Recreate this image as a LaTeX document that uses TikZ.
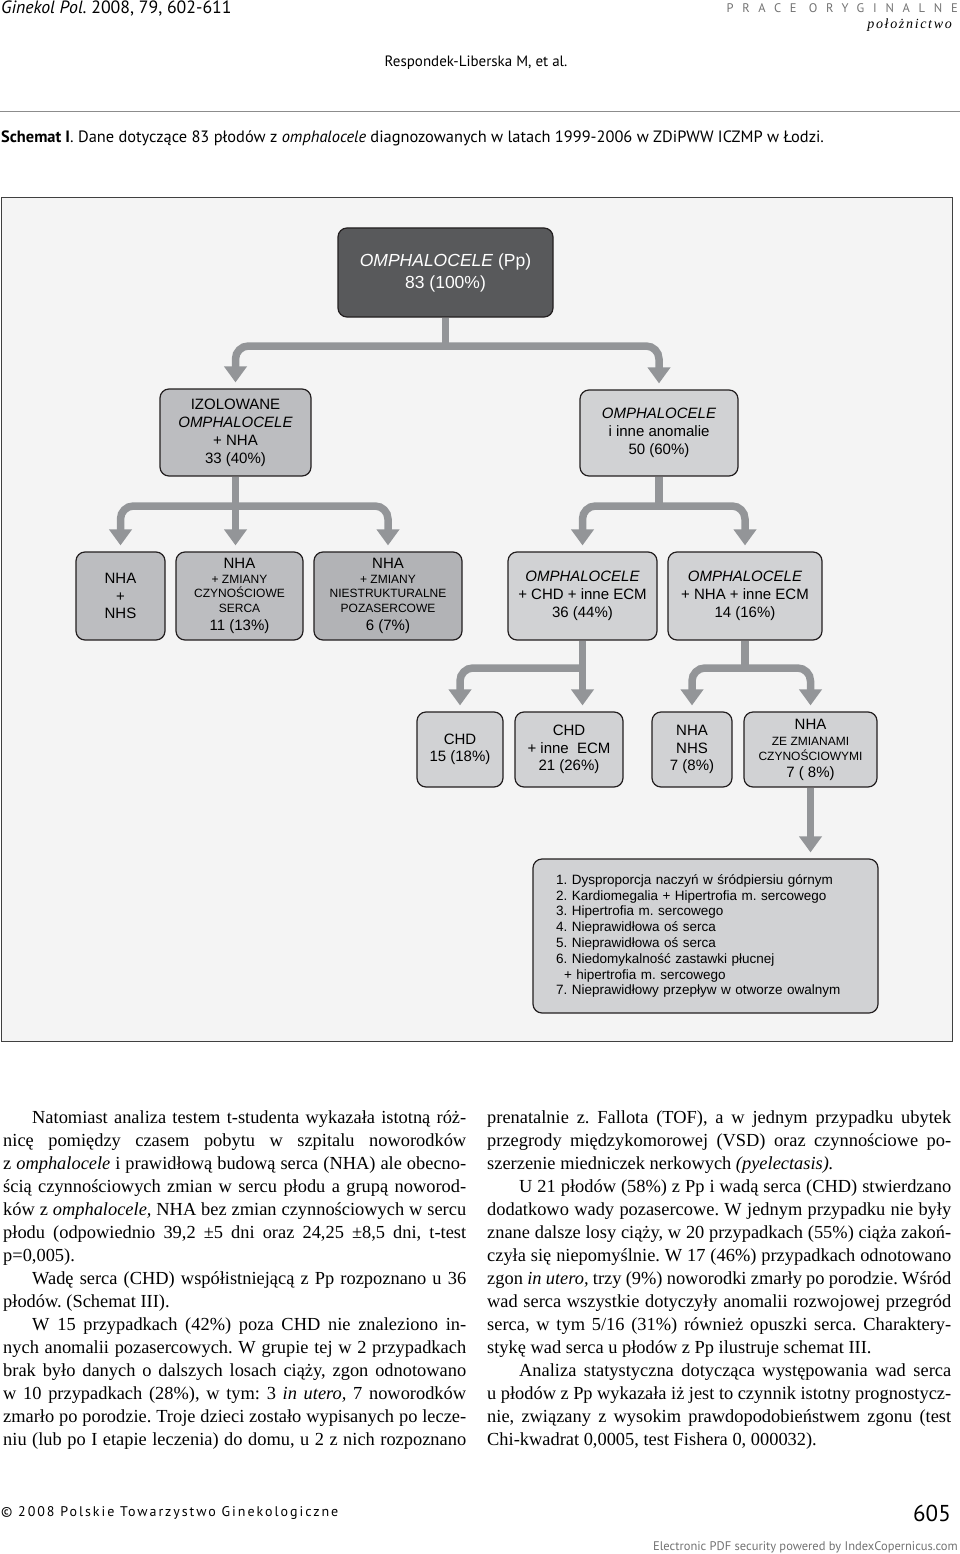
\documentclass[tikz,border=0pt]{standalone}
\usepackage{fontspec}
\setmainfont{Liberation Serif}
\newfontfamily\hdfont{PT Sans}
\newfontfamily\lsfont[LetterSpace=70]{PT Sans}
\newfontfamily\cpfont[LetterSpace=14]{PT Sans}
\newfontfamily\dpfont[LetterSpace=12]{Liberation Serif}
\newfontfamily\diafont{Liberation Sans}
\usetikzlibrary{arrows.meta}
\definecolor{framebg}{HTML}{F4F4F4}
\definecolor{darkbox}{HTML}{58595B}
\definecolor{midbox}{HTML}{BCBDC0}
\definecolor{midboxb}{HTML}{B2B3B6}
\definecolor{lightbox}{HTML}{D1D2D4}
\definecolor{conn}{HTML}{939598}
\definecolor{edge}{HTML}{231F20}
\newcommand{\fsz}[2]{\fontsize{#1}{#2}\selectfont}
\newcommand{\body}{\fontsize{18.4}{21}\selectfont}
\frenchspacing

\begin{document}
\begin{tikzpicture}[x=1pt,y=-1pt,
  box/.style={draw=edge, line width=1.2pt, rounded corners=9pt, align=center, inner sep=0pt},
  stem/.style={draw=conn, line width=7.5pt},
  tip/.style={-{Triangle[width=22pt,length=16pt]}, shorten >=6pt},
  fork/.style={stem, rounded corners=13pt, {Triangle[width=22pt,length=16pt]}-{Triangle[width=22pt,length=16pt]}, shorten <=6pt, shorten >=6pt},
  txt/.style={inner sep=0pt, anchor=base west, font=\body}]

\fill[white] (0,0) rectangle (960,1554);
\useasboundingbox (0,0) rectangle (960,1554);

% Page header
\node[inner sep=0pt, anchor=base west, font=\hdfont\fsz{17.8}{20}] (journal) at (1,14) {\textit{Ginekol Pol.} 2008, 79, 602-611};
\node[inner sep=0pt, anchor=base east, text=black!55, font=\lsfont\fsz{12.5}{14}] (section) at (958,13) {PRACE ORYGINALNE};
\node[inner sep=0pt, anchor=base east, font=\dpfont\itshape\fsz{14}{16}] (dept) at (952,29) {położnictwo};
\node[inner sep=0pt, anchor=base, font=\hdfont\fsz{15}{18}] (authors) at (476,67) {Respondek-Liberska M, et al.};
\draw[black!45, line width=1pt] (0,112) -- (960,112);
\node[inner sep=0pt, anchor=base west, font=\hdfont\fsz{16.4}{19}] (caption) at (1,143) {\textbf{Schemat I}. Dane dotyczące 83 płodów z \textit{omphalocele} diagnozowanych w latach 1999-2006 w ZDiPWW ICZMP w Łodzi.};

% Frame of the scheme
\draw[fill=framebg, draw=black!75, line width=1pt] (1,198) rectangle (952,1041);

% Level 1
\node[box, fill=darkbox, text=white, minimum width=215pt, minimum height=89pt, font=\diafont\fsz{17.5}{22}] (top) at (445.5,272.5) {\textit{OMPHALOCELE} (Pp)\\83 (100\%)};

% Level 2
\node[box, fill=midbox, minimum width=151pt, minimum height=87pt, font=\diafont\fsz{15}{18}] (izol) at (235.5,432.5) {IZOLOWANE\\\textit{OMPHALOCELE}\\+ NHA\\33 (40\%)};
\node[box, fill=lightbox, minimum width=158pt, minimum height=86pt, font=\diafont\fsz{15}{18}] (omph) at (659,433) {\textit{OMPHALOCELE}\\i inne anomalie\\50 (60\%)};

% Level 3
\node[box, fill=midbox, minimum width=89pt, minimum height=88pt, font=\diafont\fsz{15}{17.5}] (nhs) at (120.5,596) {NHA\\+\\NHS};
\node[box, fill=midbox, minimum width=127pt, minimum height=88pt, font=\diafont\fsz{15}{14.5}] (czyn) at (239.5,596) {NHA\\\fsz{12}{14.5}+ ZMIANY\\\fsz{12}{14.5}CZYNOŚCIOWE\\\fsz{12}{14.5}SERCA\\[3.5pt]\fsz{15}{14.5}11 (13\%)};
\node[box, fill=midboxb, minimum width=148pt, minimum height=88pt, font=\diafont\fsz{15}{14.5}] (niestr) at (388,596) {NHA\\\fsz{12}{14.5}+ ZMIANY\\\fsz{12}{14.5}NIESTRUKTURALNE\\\fsz{12}{14.5}POZASERCOWE\\[3.5pt]\fsz{15}{14.5}6 (7\%)};
\node[box, fill=lightbox, minimum width=149pt, minimum height=88pt, font=\diafont\fsz{15}{18}] (c36) at (582.5,596) {\textit{OMPHALOCELE}\\+ CHD + inne ECM\\36 (44\%)};
\node[box, fill=lightbox, minimum width=154pt, minimum height=88pt, font=\diafont\fsz{15}{18}] (c14) at (745,596) {\textit{OMPHALOCELE}\\+ NHA + inne ECM\\14 (16\%)};

% Level 4
\node[box, fill=lightbox, minimum width=86pt, minimum height=75pt, font=\diafont\fsz{15}{17.5}] (chd15) at (460,749.5) {CHD\\15 (18\%)};
\node[box, fill=lightbox, minimum width=108pt, minimum height=75pt, font=\diafont\fsz{15}{17.5}] (chdecm21) at (569,749.5) {CHD\\+ inne~~ECM\\21 (26\%)};
\node[box, fill=lightbox, minimum width=80pt, minimum height=75pt, font=\diafont\fsz{15}{17.5}] (nhanhs) at (692,749.5) {NHA\\NHS\\7 (8\%)};
\node[box, fill=lightbox, minimum width=133pt, minimum height=75pt, font=\diafont\fsz{15}{15}] (zmianami) at (810.5,749.5) {NHA\\[1pt]\fsz{12}{15}ZE ZMIANAMI\\\fsz{12}{15}CZYNOŚCIOWYMI\\[2pt]\fsz{15}{15}7 ( 8\%)};

% Findings
\node[box, fill=lightbox, align=left, text width=299pt, inner xsep=23pt, minimum height=154pt, font=\diafont\fsz{13.5}{15.8}] (lista) at (705.5,936) {1. Dysproporcja naczyń w śródpiersiu górnym\\2. Kardiomegalia + Hipertrofia m. sercowego\\3. Hipertrofia m. sercowego\\4. Nieprawidłowa oś serca\\5. Nieprawidłowa oś serca\\6. Niedomykalność zastawki płucnej\\\hspace*{8pt}+ hipertrofia m. sercowego\\7. Nieprawidłowy przepływ w otworze owalnym};

% Connectors
\coordinate (j1) at (445.5,346);
\coordinate (j2) at (235.5,506);
\coordinate (j3) at (659,506);
\coordinate (j4) at (582.5,668);
\coordinate (j5) at (745,668);
\draw[stem] (top.south) -- (j1);
\draw[fork] (izol.north) |- (j1) -| (omph.north);
\draw[stem,tip] (izol.south) -- (izol.south |- czyn.north);
\draw[fork] (nhs.north) |- (j2) -| (niestr.north);
\draw[stem] (omph.south) -- (j3);
\draw[fork] (c36.north) |- (j3) -| (c14.north);
\draw[stem,tip] (c36.south) -- (c36.south |- chdecm21.north);
\draw[stem,tip,rounded corners=13pt] (j4) -| (chd15.north);
\draw[stem] (c14.south) -- (j5);
\draw[fork] (nhanhs.north) |- (j5) -| (zmianami.north);
\draw[stem,tip] (zmianami.south) -- (zmianami.south |- lista.north);

% Left column
\node[txt] (l1) at (32,1123) {\makebox[434pt][s]{Natomiast analiza testem t-studenta wykazała istotną róż-}};
\node[txt] (l2) at (3,1146) {\makebox[463pt][s]{nicę pomiędzy czasem pobytu w szpitalu noworodków}};
\node[txt] (l3) at (3,1169) {\makebox[463pt][s]{z \textit{omphalocele} i prawidłową budową serca (NHA) ale obecno-}};
\node[txt] (l4) at (3,1192) {\makebox[463pt][s]{ścią czynnościowych zmian w sercu płodu a grupą noworod-}};
\node[txt] (l5) at (3,1215) {\makebox[463pt][s]{ków z \textit{omphalocele,} NHA bez zmian czynnościowych w sercu}};
\node[txt] (l6) at (3,1238) {\makebox[463pt][s]{płodu (odpowiednio 39,2 ±5 dni oraz 24,25 ±8,5 dni, t-test}};
\node[txt] (l7) at (3,1261) {p=0,005).};
\node[txt] (l8) at (32,1284) {\makebox[434pt][s]{Wadę serca (CHD) współistniejącą z Pp rozpoznano u 36}};
\node[txt] (l9) at (3,1307) {płodów. (Schemat III).};
\node[txt] (l10) at (32,1330) {\makebox[434pt][s]{W 15 przypadkach (42\%) poza CHD nie znaleziono in-}};
\node[txt] (l11) at (3,1353) {\makebox[463pt][s]{nych anomalii pozasercowych. W grupie tej w 2 przypadkach}};
\node[txt] (l12) at (3,1376) {\makebox[463pt][s]{brak było danych o dalszych losach ciąży, zgon odnotowano}};
\node[txt] (l13) at (3,1399) {\makebox[463pt][s]{w 10 przypadkach (28\%), w tym: 3 \textit{in utero,} 7 noworodków}};
\node[txt] (l14) at (3,1422) {\makebox[463pt][s]{zmarło po porodzie. Troje dzieci zostało wypisanych po lecze-}};
\node[txt] (l15) at (3,1445) {\makebox[463pt][s]{niu (lub po I etapie leczenia) do domu, u 2 z nich rozpoznano}};

% Right column
\node[txt] (r1) at (487,1123) {\makebox[464pt][s]{prenatalnie z. Fallota (TOF), a w jednym przypadku ubytek}};
\node[txt] (r2) at (487,1146) {\makebox[464pt][s]{przegrody międzykomorowej (VSD) oraz czynnościowe po-}};
\node[txt] (r3) at (487,1169) {szerzenie miedniczek nerkowych \textit{(pyelectasis).}};
\node[txt] (r4) at (519,1192) {\makebox[432pt][s]{U 21 płodów (58\%) z Pp i wadą serca (CHD) stwierdzano}};
\node[txt] (r5) at (487,1215) {\makebox[464pt][s]{dodatkowo wady pozasercowe. W jednym przypadku nie były}};
\node[txt] (r6) at (487,1238) {\makebox[464pt][s]{znane dalsze losy ciąży, w 20 przypadkach (55\%) ciąża zakoń-}};
\node[txt] (r7) at (487,1261) {\makebox[464pt][s]{czyła się niepomyślnie. W 17 (46\%) przypadkach odnotowano}};
\node[txt] (r8) at (487,1284) {\makebox[464pt][s]{zgon \textit{in utero,} trzy (9\%) noworodki zmarły po porodzie. Wśród}};
\node[txt] (r9) at (487,1307) {\makebox[464pt][s]{wad serca wszystkie dotyczyły anomalii rozwojowej przegród}};
\node[txt] (r10) at (487,1330) {\makebox[464pt][s]{serca, w tym 5/16 (31\%) również opuszki serca. Charaktery-}};
\node[txt] (r11) at (487,1353) {stykę wad serca u płodów z Pp ilustruje schemat III.};
\node[txt] (r12) at (519,1376) {\makebox[432pt][s]{Analiza statystyczna dotycząca występowania wad serca}};
\node[txt] (r13) at (487,1399) {\makebox[464pt][s]{u płodów z Pp wykazała iż jest to czynnik istotny prognostycz-}};
\node[txt] (r14) at (487,1422) {\makebox[464pt][s]{nie, związany z wysokim prawdopodobieństwem zgonu (test}};
\node[txt] (r15) at (487,1445) {Chi-kwadrat 0,0005, test Fishera 0, 000032).};

% Page footer
\node[inner sep=0pt, anchor=base west, font=\cpfont\fsz{14}{16}] (copy) at (1,1516) {© 2008 Polskie Towarzystwo Ginekologiczne};
\node[inner sep=0pt, anchor=base east, font=\hdfont\fsz{23}{26}] (page) at (951,1521) {605};
\node[inner sep=0pt, anchor=base east, text=black!55, font=\hdfont\fsz{12.5}{15}] (ic) at (958,1550) {Electronic PDF security powered by IndexCopernicus.com};

\end{tikzpicture}
\end{document}
